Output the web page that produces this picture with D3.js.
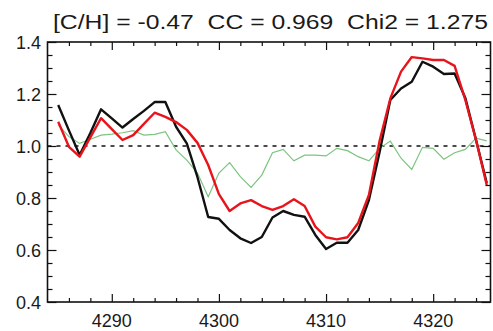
<!DOCTYPE html>
<html>
<head>
<meta charset="utf-8">
<script src="https://cdn.jsdelivr.net/npm/d3@7"></script>
<style>
  body { margin: 0; background: #fff; }
  svg { display: block; }
  text { font-family: "Liberation Sans", Arial, sans-serif; fill: #1a1a1a; }
</style>
</head>
<body>
<svg width="493" height="331"></svg>
<script>
// wavelength grid (Angstrom)
var wave = d3.range(4285, 4326);

// observed spectrum (black)
var observed = [1.158, 1.06, 0.965, 1.05, 1.141, 1.106, 1.071, 1.104, 1.135, 1.169,
  1.169, 1.074, 1.01, 0.88, 0.727, 0.72, 0.677, 0.645, 0.627, 0.65,
  0.725, 0.75, 0.735, 0.728, 0.658, 0.604, 0.628, 0.628, 0.677, 0.792,
  0.977, 1.177, 1.221, 1.247, 1.324, 1.305, 1.277, 1.279, 1.185, 1.023, 0.858];

// synthetic fit (red)
var model = [1.093, 0.997, 0.959, 1.033, 1.107, 1.065, 1.023, 1.042, 1.085, 1.128,
  1.112, 1.092, 1.062, 1.012, 0.927, 0.815, 0.75, 0.779, 0.792, 0.769,
  0.754, 0.769, 0.795, 0.769, 0.69, 0.649, 0.641, 0.649, 0.704, 0.812,
  1.02, 1.183, 1.286, 1.342, 1.337, 1.331, 1.331, 1.308, 1.177, 1.023, 0.85];

// ratio (green)
var ratio = [1.081, 1.036, 1.01, 1.026, 1.042, 1.046, 1.051, 1.059, 1.042, 1.045,
  1.055, 0.985, 0.946, 0.896, 0.805, 0.896, 0.936, 0.882, 0.841, 0.888,
  0.974, 0.987, 0.943, 0.965, 0.965, 0.962, 0.991, 0.982, 0.959, 0.943,
  0.991, 1.019, 0.953, 0.91, 0.995, 0.991, 0.949, 0.974, 0.987, 1.03, 1.02];

var xTicks = [4290, 4300, 4310, 4320];
var yTicks = [0.4, 0.6, 0.8, 1.0, 1.2, 1.4];
var title = "[C/H] = -0.47  CC = 0.969  Chi2 = 1.275";

var svg = d3.select("svg");
var plotL = 47.5, plotR = 490.5, plotT = 42, plotB = 302;

var x = d3.scaleLinear().domain([4284, 4325.35]).range([plotL, plotR]);
var y = d3.scaleLinear().domain([0.4, 1.4]).range([plotB, plotT]);

svg.append("defs").append("clipPath").attr("id", "clip")
  .append("rect").attr("x", plotL).attr("y", plotT)
  .attr("width", plotR - plotL).attr("height", plotB - plotT);

// reference line at 1.0
svg.append("line")
  .attr("x1", plotL).attr("x2", plotR)
  .attr("y1", y(1)).attr("y2", y(1))
  .attr("stroke", "#111").attr("stroke-width", 1.3)
  .attr("stroke-dasharray", "4,5");

var line = d3.line()
  .x(function(d, i) { return x(wave[i]); })
  .y(function(d) { return y(d); });

var g = svg.append("g").attr("clip-path", "url(#clip)");

g.append("path").datum(ratio)
  .attr("d", line).attr("fill", "none")
  .attr("stroke", "#7cc47f").attr("stroke-width", 1.2);

g.append("path").datum(observed)
  .attr("d", line).attr("fill", "none")
  .attr("stroke", "#111").attr("stroke-width", 2.4)
  .attr("stroke-linejoin", "round");

g.append("path").datum(model)
  .attr("d", line).attr("fill", "none")
  .attr("stroke", "#e8141b").attr("stroke-width", 2.4)
  .attr("stroke-linejoin", "round");

// ticks pointing inwards on all four sides
var minorX = d3.range(4286, 4326, 2).filter(function(d) { return d % 10 != 0; });
var minorY = d3.range(0.45, 1.4, 0.05).filter(function(d) { return Math.abs(d * 5 - Math.round(d * 5)) > 0.01; });

svg.append("g").attr("transform", "translate(0," + plotB + ")")
  .call(d3.axisTop(x).tickValues(xTicks).tickSize(8).tickFormat(""));
svg.append("g").attr("transform", "translate(0," + plotB + ")")
  .call(d3.axisTop(x).tickValues(minorX).tickSize(4).tickFormat(""));
svg.append("g").attr("transform", "translate(0," + plotT + ")")
  .call(d3.axisBottom(x).tickValues(xTicks).tickSize(8).tickFormat(""));
svg.append("g").attr("transform", "translate(0," + plotT + ")")
  .call(d3.axisBottom(x).tickValues(minorX).tickSize(4).tickFormat(""));

svg.append("g").attr("transform", "translate(" + plotL + ",0)")
  .call(d3.axisRight(y).tickValues(yTicks).tickSize(9).tickFormat(""));
svg.append("g").attr("transform", "translate(" + plotL + ",0)")
  .call(d3.axisRight(y).tickValues(minorY).tickSize(5).tickFormat(""));
svg.append("g").attr("transform", "translate(" + plotR + ",0)")
  .call(d3.axisLeft(y).tickValues(yTicks).tickSize(9).tickFormat(""));
svg.append("g").attr("transform", "translate(" + plotR + ",0)")
  .call(d3.axisLeft(y).tickValues(minorY).tickSize(5).tickFormat(""));

svg.selectAll(".domain").remove();
svg.selectAll(".tick line").attr("stroke", "#111").attr("stroke-width", 1.2);

svg.append("rect")
  .attr("x", plotL).attr("y", plotT)
  .attr("width", plotR - plotL).attr("height", plotB - plotT)
  .attr("fill", "none").attr("stroke", "#111").attr("stroke-width", 1.6);

// tick labels
svg.selectAll(".xlab").data(xTicks).enter().append("text")
  .attr("x", function(d) { return x(d); })
  .attr("y", 327)
  .attr("text-anchor", "middle")
  .attr("font-size", 18)
  .text(function(d) { return d; });

svg.selectAll(".ylab").data(yTicks).enter().append("text")
  .attr("x", 41)
  .attr("y", function(d) { return y(d) + 6.5; })
  .attr("text-anchor", "end")
  .attr("font-size", 18)
  .text(function(d) { return d.toFixed(1); });

svg.append("text")
  .attr("x", 53).attr("y", 28.5)
  .attr("font-size", 19.5)
  .attr("textLength", 435)
  .attr("lengthAdjust", "spacingAndGlyphs")
  .style("white-space", "pre")
  .text(title);
</script>
</body>
</html>
